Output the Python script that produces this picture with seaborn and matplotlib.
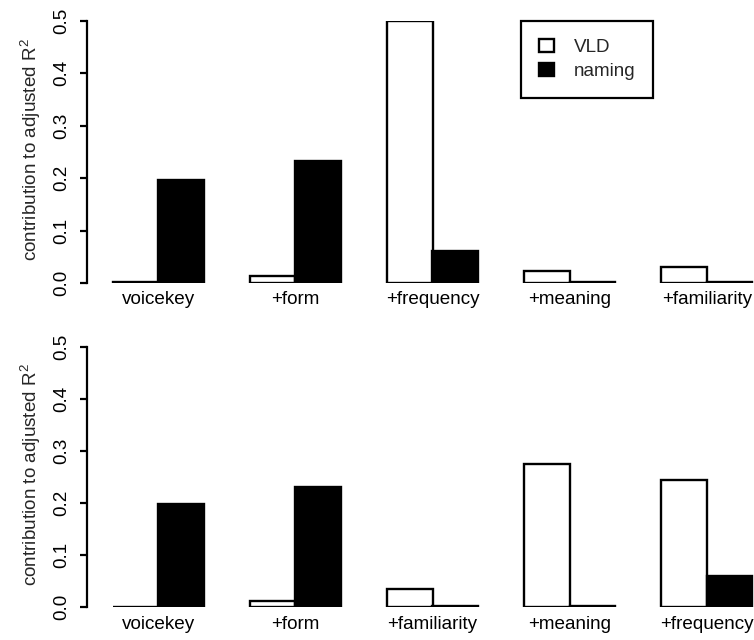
import matplotlib
matplotlib.use("Agg")
import matplotlib.pyplot as plt
import seaborn as sns
import pandas as pd

# ---- data ----
categories_top = ["voicekey", "+form", "+frequency", "+meaning", "+familiarity"]
vld_top = [0.001, 0.013, 0.500, 0.022, 0.031]
naming_top = [0.196, 0.233, 0.062, 0.002, 0.002]

categories_bottom = ["voicekey", "+form", "+familiarity", "+meaning", "+frequency"]
vld_bottom = [0.001, 0.012, 0.035, 0.274, 0.244]
naming_bottom = [0.199, 0.231, 0.002, 0.002, 0.060]

series_names = ["VLD", "naming"]
y_ticks = [0.0, 0.1, 0.2, 0.3, 0.4, 0.5]
y_label = "contribution to adjusted R$^2$"

sns.set_style("white")
plt.rcParams["font.family"] = ["Liberation Sans", "DejaVu Sans"]
plt.rcParams["mathtext.fontset"] = "custom"
plt.rcParams["mathtext.rm"] = "Liberation Sans"
plt.rcParams["mathtext.it"] = "Liberation Sans"
plt.rcParams["mathtext.default"] = "regular"
FS = 13.6

W, H = 754, 640
fig = plt.figure(figsize=(W / 100, H / 100), dpi=100)

def make_df(cats, vld, nam):
    rows = []
    for c, v, n in zip(cats, vld, nam):
        rows.append({"cat": c, "task": series_names[0], "val": v})
        rows.append({"cat": c, "task": series_names[1], "val": n})
    return pd.DataFrame(rows)

ax_left_px = 87
ax_width_px = 691
panels = [
    (categories_top, vld_top, naming_top, 283, 21),
    (categories_bottom, vld_bottom, naming_bottom, 607.3, 346.7),
]

axes = []
for i, (cats, vld, nam, y0px, y5px) in enumerate(panels):
    ax = fig.add_axes([ax_left_px / W, 1 - y0px / H, ax_width_px / W, (y0px - y5px) / H])
    df = make_df(cats, vld, nam)
    sns.barplot(data=df, x="cat", y="val", hue="task", order=cats,
                hue_order=series_names,
                palette={series_names[0]: "white", series_names[1]: "black"},
                edgecolor="black", linewidth=1.7, width=2 / 3, gap=0,
                errorbar=None, legend=(i == 0), ax=ax)
    ax.set_xlim(-0.52, 4.52)
    ax.set_ylim(0, 0.5)
    for s in ["top", "right", "bottom"]:
        ax.spines[s].set_visible(False)
    ax.spines["left"].set_linewidth(1.6)
    ax.spines["left"].set_color("black")
    ax.spines["left"].set_bounds(0, 0.5)
    ax.set_yticks(y_ticks)
    ax.set_yticklabels([f"{t:.1f}" for t in y_ticks], rotation=90, va="center", fontsize=FS)
    ax.tick_params(axis="y", left=True, length=5, width=1.6, pad=7, colors="black")
    ax.tick_params(axis="x", length=0, pad=6, labelsize=FS, colors="black")
    ax.set_xlabel("")
    ax.set_ylabel("")
    ax.patch.set_alpha(0)
    fig.text(31 / W, 1 - ((y0px + y5px) / 2 - 2) / H, y_label, rotation=90,
             ha="center", va="center", fontsize=FS)
    axes.append(ax)

# legend on top panel
ax = axes[0]
handles, labels = ax.get_legend_handles_labels()
if ax.get_legend() is not None:
    ax.get_legend().remove()
leg = ax.legend(handles, labels, loc="upper left",
                bbox_to_anchor=(521 / W, 1 - 21 / H), bbox_transform=fig.transFigure,
                borderaxespad=0, fontsize=FS, frameon=True, fancybox=False,
                framealpha=1, edgecolor="black", handlelength=0.8,
                handleheight=0.7, handletextpad=1.05, labelspacing=0.35,
                borderpad=0.95)
leg.get_frame().set_linewidth(1.6)

fig.savefig("out.png", dpi=100)
